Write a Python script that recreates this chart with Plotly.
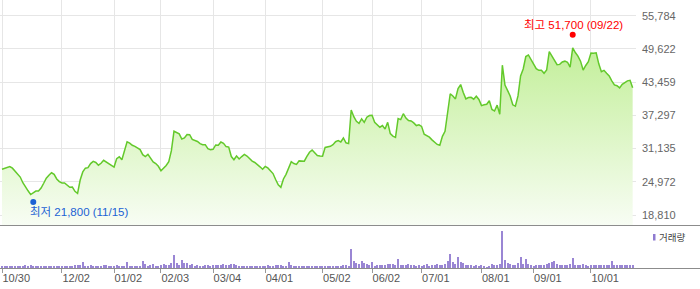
import numpy as np
import pandas as pd
import plotly.graph_objects as go

# ---------------- data ----------------
start_date = "2024-10-30"
end_date = "2025-10-30"
market_holidays = [
    "2024-12-25", "2024-12-31", "2025-01-01", "2025-01-27", "2025-01-28",
    "2025-01-29", "2025-01-30", "2025-03-03", "2025-05-01", "2025-05-05",
    "2025-05-06", "2025-06-03", "2025-06-06", "2025-08-15", "2025-10-03",
    "2025-10-06", "2025-10-07", "2025-10-08", "2025-10-09",
]
trade_dates = [d.strftime("%Y-%m-%d") for d in
               pd.bdate_range(start_date, end_date, freq="C", holidays=market_holidays)]

close_prices = [
    27300, 27450, 27650, 27800, 27500, 26900, 26350, 25850, 24800, 24150,
    23300, 22600, 23000, 23250, 23250, 23800, 24700, 25650, 26200, 26650,
    26350, 25500, 25000, 24750, 24750, 24300, 23950, 24000, 23200, 22800,
    25300, 26800, 27500, 27600, 28350, 28750, 28550, 28050, 28400, 28950,
    28600, 28300, 27900, 27700, 29250, 29600, 29050, 30800, 32400, 32150,
    31750, 31550, 31300, 30950, 30000, 29650, 30050, 29250, 28650, 28350,
    27850, 27000, 27500, 28000, 28700, 30750, 34350, 34050, 33850, 32900,
    33100, 33750, 33700, 32850, 32700, 32450, 32050, 31850, 31850, 31100,
    30900, 31000, 31800, 31750, 32350, 32100, 31500, 31400, 29650, 29050,
    29750, 29200, 29650, 30050, 29750, 29250, 28800, 28550, 28200, 27750,
    27300, 27800, 27550, 27000, 26500, 25400, 24400, 23950, 25500, 26350,
    27600, 28700, 28350, 28200, 28850, 28850, 28800, 29700, 30450, 30850,
    30350, 29850, 29750, 29700, 31350, 31450, 31550, 31850, 32400, 32600,
    32350, 33100, 32200, 32050, 38300, 37050, 36200, 35800, 36650, 36000,
    36950, 37250, 37300, 36000, 35500, 35100, 35400, 34750, 36000, 33900,
    33450, 33200, 36700, 36500, 37600, 36800, 36350, 36250, 35900, 35400,
    35550, 35250, 33800, 33550, 33250, 32750, 32300, 31900, 31750, 33400,
    34350, 37800, 41300, 40900, 40350, 42250, 43000, 41550, 40350, 40600,
    40650, 40300, 40850, 40250, 39100, 39250, 39350, 40000, 38400, 38100,
    39200, 37500, 46600, 42900, 41900, 40900, 39250, 39000, 40900, 44600,
    45900, 48200, 48500, 47550, 46700, 45950, 45650, 45650, 45100, 45700,
    49100, 48300, 47450, 46700, 46750, 47200, 47350, 47150, 46250, 49800,
    48950, 48300, 47350, 45700, 46550, 47250, 48850, 48800, 48900, 46850,
    45400, 45650, 45100, 44600, 43700, 42950, 42800, 42400, 43050, 43450,
    43700, 43800, 42400,
]

volumes = [
    120, 110, 130, 120, 110, 130, 120, 140, 250, 260,
    240, 270, 250, 230, 220, 180, 180, 170, 200, 190,
    170, 160, 180, 190, 200, 210, 190, 240, 320, 300,
    330, 570, 250, 230, 260, 240, 210, 250, 220, 330,
    270, 220, 200, 230, 260, 200, 210, 240, 570, 250,
    200, 210, 190, 230, 670, 400, 250, 280, 400, 230,
    250, 300, 400, 260, 330, 500, 1270, 500, 330, 830,
    500, 500, 270, 400, 250, 270, 250, 230, 270, 330,
    250, 300, 280, 330, 270, 400, 300, 350, 430, 400,
    280, 250, 220, 200, 230, 200, 220, 180, 220, 240,
    200, 250, 270, 230, 250, 280, 300, 350, 250, 230,
    570, 330, 250, 230, 200, 180, 220, 200, 190, 210,
    230, 200, 180, 210, 250, 230, 220, 200, 250, 230,
    200, 280, 270, 230, 1930, 670, 500, 400, 670, 500,
    400, 270, 600, 170, 330, 270, 330, 300, 430, 400,
    400, 300, 930, 270, 330, 270, 430, 300, 270, 170,
    270, 170, 330, 400, 170, 330, 270, 430, 330, 330,
    400, 730, 1430, 600, 400, 1100, 600, 500, 330, 270,
    270, 170, 270, 170, 330, 170, 100, 170, 400, 330,
    270, 400, 3670, 770, 500, 400, 330, 270, 500, 1070,
    430, 930, 430, 330, 170, 270, 330, 330, 270, 430,
    500, 570, 730, 400, 270, 270, 270, 330, 400, 1000,
    330, 270, 330, 400, 270, 170, 270, 330, 330, 330,
    270, 330, 270, 270, 670, 330, 270, 330, 270, 270,
    270, 330, 330,
]

tick_dates = ["2024-10-30", "2024-12-02", "2025-01-02", "2025-02-03", "2025-03-04",
              "2025-04-01", "2025-05-02", "2025-06-02", "2025-07-01", "2025-08-01",
              "2025-09-01", "2025-10-01"]
tick_labels = ["10/30", "12/02", "01/02", "02/03", "03/04", "04/01", "05/02",
               "06/02", "07/01", "08/01", "09/01", "10/01"]

y_axis_min = 18810
y_axis_max = 55784
y_tick_labels = ["18,810", "24,972", "31,135", "37,297", "43,459", "49,622", "55,784"]

high_date, high_price, high_text = "2025-09-22", 51700, "최고 51,700 (09/22)"
low_date, low_price, low_text = "2024-11-15", 21800, "최저 21,800 (11/15)"
volume_legend = "거래량"

assert len(trade_dates) == len(close_prices) == len(volumes), (
    len(trade_dates), len(close_prices), len(volumes))

# ---------------- geometry / style ----------------
W, H = 700, 289
PLOT_W = 636          # plot area width in px
PLOT_H = 268          # plot area height in px
price_bottom_px = 226  # price panel bottom (from top)
vol_top_px = 229
px_per_day = 2.606
first_x_px = 2.0

y_tickvals = np.linspace(y_axis_min, y_axis_max, len(y_tick_labels))
per_px = (y_axis_max - y_axis_min) / 199.3
price_range = [y_axis_min - (price_bottom_px - 215.0) * per_px,
               y_axis_max + 15.7 * per_px]
x_range = [-first_x_px / px_per_day, (PLOT_W - first_x_px) / px_per_day]

grid_c = "#e6e6e6"
font_fam = "Liberation Sans, Arial, 'Noto Sans CJK KR', sans-serif"

fig = go.Figure()
fig.add_trace(go.Scatter(
    x=trade_dates, y=close_prices, mode="lines",
    line=dict(color="#63c92b", width=1.5),
    fill="tozeroy",
    fillgradient=dict(type="vertical",
                      colorscale=[[0, "#f8fdf4"], [1, "#c3ef9a"]],
                      start=price_range[0], stop=max(close_prices)),
    xaxis="x", yaxis="y", hoverinfo="skip", showlegend=False,
))
fig.add_trace(go.Bar(
    x=trade_dates, y=volumes, width=0.42,
    marker=dict(color="#9a86d4", line=dict(width=0)),
    xaxis="x2", yaxis="y2", hoverinfo="skip", showlegend=False,
))

high_idx = trade_dates.index(high_date)
low_idx = trade_dates.index(low_date)
line_c = "#8c8c8c"

shapes = [
    dict(type="line", xref="paper", yref="paper", x0=0, x1=W / PLOT_W,
         y0=(PLOT_H - 225.5) / PLOT_H, y1=(PLOT_H - 225.5) / PLOT_H,
         line=dict(color=line_c, width=1)),
    dict(type="line", xref="paper", yref="paper", x0=0, x1=W / PLOT_W,
         y0=-0.5 / PLOT_H, y1=-0.5 / PLOT_H, line=dict(color=line_c, width=1)),
    dict(type="circle", xref="x", yref="y", xsizemode="pixel", ysizemode="pixel",
         xanchor=high_idx, yanchor=high_price, x0=-3, x1=3, y0=0, y1=6,
         fillcolor="#ff0000", line=dict(width=0)),
    dict(type="circle", xref="x", yref="y", xsizemode="pixel", ysizemode="pixel",
         xanchor=low_idx, yanchor=low_price, x0=-3, x1=3, y0=-6, y1=0,
         fillcolor="#1c62d4", line=dict(width=0)),
    dict(type="rect", xref="paper", yref="paper",
         x0=653 / PLOT_W, x1=655.5 / PLOT_W,
         y0=(PLOT_H - 240.5) / PLOT_H, y1=(PLOT_H - 234) / PLOT_H,
         fillcolor="#8f7bd0", line=dict(width=0)),
]

annotations = [
    dict(x=high_date, y=high_price, xref="x", yref="y", text=high_text,
         showarrow=False, xanchor="center", yanchor="middle", xshift=1, yshift=13,
         font=dict(color="#ff0000", size=11.5, family=font_fam)),
    dict(x=low_date, y=low_price, xref="x", yref="y", text=low_text,
         showarrow=False, xanchor="left", yanchor="middle", xshift=-5, yshift=-13,
         font=dict(color="#1c62d4", size=11.5, family=font_fam)),
    dict(x=657.5 / PLOT_W, y=(PLOT_H - 237) / PLOT_H, xref="paper", yref="paper",
         text=volume_legend, showarrow=False, xanchor="left", yanchor="middle",
         font=dict(color="#444444", size=9.5, family="'Noto Sans CJK KR', sans-serif")),
]

fig.update_layout(
    width=W, height=H,
    margin=dict(l=0, r=W - PLOT_W, t=0, b=H - PLOT_H, pad=0),
    paper_bgcolor="white", plot_bgcolor="white",
    font=dict(family=font_fam, size=11, color="#666666"),
    showlegend=False, bargap=0,
    xaxis=dict(type="category", domain=[0, 1], anchor="y", range=x_range,
               tickvals=tick_dates, showticklabels=False, ticks="",
               showgrid=True, gridcolor=grid_c, gridwidth=1,
               zeroline=False, showline=False, fixedrange=True),
    xaxis2=dict(type="category", domain=[0, 1], anchor="y2", matches="x",
                tickvals=tick_dates, ticktext=tick_labels,
                ticks="outside", ticklen=4, tickcolor="#999999", tickwidth=1,
                ticklabelposition="outside right",
                tickfont=dict(size=11, color="#555555", family=font_fam),
                showgrid=False, zeroline=False, showline=False),
    yaxis=dict(domain=[(PLOT_H - price_bottom_px) / PLOT_H, 1], anchor="x",
               range=price_range, side="right",
               tickvals=list(y_tickvals), ticktext=y_tick_labels, ticks="",
               ticklabelstandoff=5,
               tickfont=dict(size=11, color="#666666", family=font_fam),
               showgrid=True, gridcolor=grid_c, gridwidth=1,
               zeroline=False, showline=False),
    yaxis2=dict(domain=[0, (PLOT_H - vol_top_px) / PLOT_H], anchor="x2",
                range=[0, max(volumes) * 39 / 36.7], showticklabels=False,
                ticks="", showgrid=False, zeroline=False, showline=False),
    shapes=shapes,
    annotations=annotations,
)

fig.write_html("out.html")
